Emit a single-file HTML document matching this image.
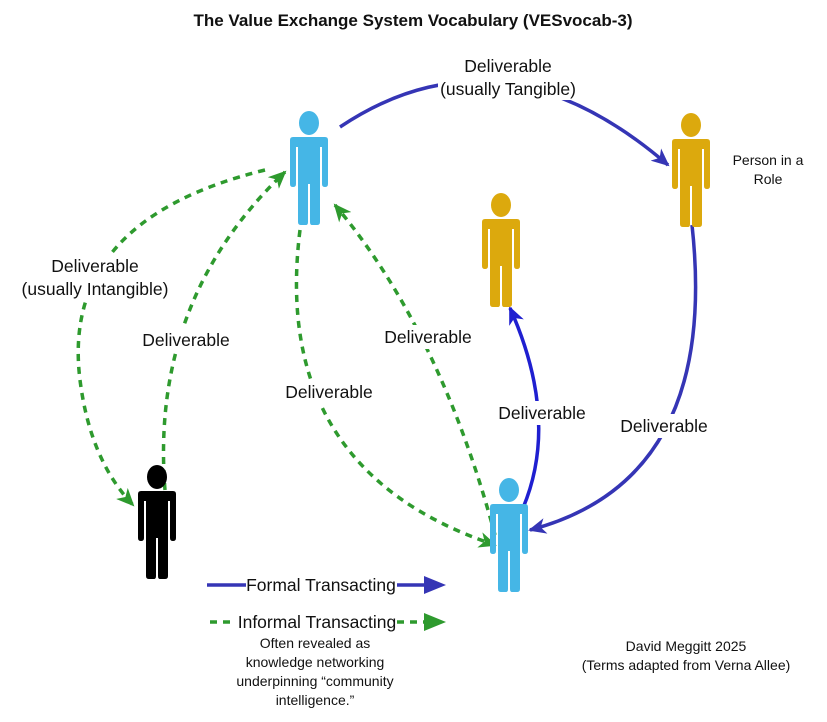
<!DOCTYPE html>
<html><head><meta charset="utf-8"><style>
body{margin:0;background:#fff}
svg{display:block}
text{font-family:"Liberation Sans",Arial,sans-serif;fill:#111}
</style></head><body>
<svg width="827" height="722" viewBox="0 0 827 722" xmlns="http://www.w3.org/2000/svg">
<defs>
<symbol id="p" viewBox="0 0 38 115" width="38" height="115">
<ellipse cx="19" cy="13" rx="10" ry="12"/>
<path d="M3 27 H35 Q38 27 38 30 V74 Q38 77 35 77 Q32 77 32 74 V37 H30 V112 Q30 115 27 115 H22 Q20 115 20 112 V74 H18 V112 Q18 115 16 115 H11 Q8 115 8 112 V37 H6 V74 Q6 77 3 77 Q0 77 0 74 V30 Q0 27 3 27 Z"/>
</symbol>
<marker id="ab" markerWidth="18" markerHeight="16" refX="16" refY="8" orient="auto" markerUnits="userSpaceOnUse" viewBox="0 0 18 16"><path d="M0 0 L18 8 L0 16 L5 8Z" fill="#3535b5"/></marker>
<marker id="ab2" markerWidth="18" markerHeight="16" refX="16" refY="8" orient="auto" markerUnits="userSpaceOnUse" viewBox="0 0 18 16"><path d="M0 0 L18 8 L0 16 L5 8Z" fill="#1f1fd0"/></marker>
<marker id="ag" markerWidth="18" markerHeight="16" refX="16" refY="8" orient="auto" markerUnits="userSpaceOnUse" viewBox="0 0 18 16"><path d="M0 0 L18 8 L0 16 L5 8Z" fill="#2e9a2e"/></marker>
</defs>
<text x="413" y="26" text-anchor="middle" font-size="17" font-weight="bold">The Value Exchange System Vocabulary (VESvocab-3)</text>

<g fill="none" stroke-width="3.5">
<path d="M340 127 Q500 20 668 165" stroke="#3535b5" marker-end="url(#ab)"/>
<path d="M692 225 Q720 480 530 530" stroke="#3535b5" marker-end="url(#ab)"/>
<path d="M523 508 Q560 420 510 308" stroke="#1f1fd0" marker-end="url(#ab2)"/>
<g stroke="#2e9a2e" stroke-dasharray="7 6">
<path d="M265 170 Q60 220 80 380 Q90 460 133 505" marker-end="url(#ag)"/>
<path d="M165 490 Q150 300 285 172" marker-end="url(#ag)"/>
<path d="M300 230 Q270 470 495 545" marker-end="url(#ag)"/>
<path d="M495 535 Q440 330 335 205" marker-end="url(#ag)"/>
</g>
</g>

<g fill="#fff" font-size="17.5" text-anchor="middle">
<rect x="438" y="55" width="140" height="45"/>
<rect x="25" y="255" width="140" height="45"/>
<rect x="140" y="328" width="92" height="24"/>
<rect x="283" y="380" width="92" height="24"/>
<rect x="382" y="325" width="92" height="24"/>
<rect x="496" y="401" width="92" height="24"/>
<rect x="618" y="414" width="92" height="24"/>
</g>
<g font-size="17.5" text-anchor="middle">
<text x="508" y="72">Deliverable</text><text x="508" y="95">(usually Tangible)</text>
<text x="95" y="272">Deliverable</text><text x="95" y="295">(usually Intangible)</text>
<text x="186" y="346">Deliverable</text>
<text x="329" y="398">Deliverable</text>
<text x="428" y="343">Deliverable</text>
<text x="542" y="419">Deliverable</text>
<text x="664" y="432">Deliverable</text>
</g>
<text x="768" y="165" font-size="14" text-anchor="middle">Person in a</text>
<text x="768" y="184" font-size="14" text-anchor="middle">Role</text>

<use href="#p" x="290" y="110" fill="#45b6e6"/>
<use href="#p" x="672" y="112" fill="#dca90d"/>
<use href="#p" x="482" y="192" fill="#dca90d"/>
<use href="#p" x="138" y="464" fill="#000"/>
<use href="#p" x="490" y="477" fill="#45b6e6"/>

<line x1="207" y1="585" x2="246" y2="585" stroke="#3535b5" stroke-width="3.5"/>
<line x1="397" y1="585" x2="430" y2="585" stroke="#3535b5" stroke-width="3.5"/>
<path d="M424 576 L446 585 L424 594 Z" fill="#3535b5"/>
<text x="321" y="591" font-size="17.5" text-anchor="middle">Formal Transacting</text>
<line x1="210" y1="622" x2="236" y2="622" stroke="#2e9a2e" stroke-width="3.5" stroke-dasharray="7 6"/>
<line x1="397" y1="622" x2="428" y2="622" stroke="#2e9a2e" stroke-width="3.5" stroke-dasharray="7 6"/>
<path d="M424 613 L446 622 L424 631 Z" fill="#2e9a2e"/>
<text x="317" y="628" font-size="17.5" text-anchor="middle">Informal Transacting</text>
<g font-size="14" text-anchor="middle">
<text x="315" y="648">Often revealed as</text>
<text x="315" y="667">knowledge networking</text>
<text x="315" y="686">underpinning “community</text>
<text x="315" y="705">intelligence.”</text>
<text x="686" y="651">David Meggitt 2025</text>
<text x="686" y="670">(Terms adapted from Verna Allee)</text>
</g>
</svg>
</body></html>
